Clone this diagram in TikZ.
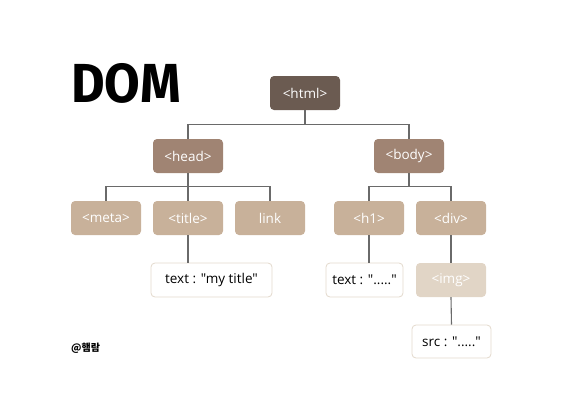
\documentclass[tikz,border=0pt]{standalone}
\usepackage{fontspec}
\newfontfamily\boxfont{Open Sans}
\newfontfamily\domfont{Fira Sans}
\newfontfamily\krfont{Noto Sans CJK KR}
\definecolor{cdark}{HTML}{6B5B51}
\definecolor{cmid}{HTML}{A08473}
\definecolor{clight}{HTML}{C8B19A}
\definecolor{cpale}{HTML}{E1D5C6}
\definecolor{cedge}{HTML}{E3D9CC}
\definecolor{cline}{HTML}{6A6A6A}
\begin{document}
\begin{tikzpicture}[x=1pt,y=-1pt,
  box/.style={rounded corners=4pt,minimum width=70pt,minimum height=34pt,inner sep=0pt,text=white,font=\boxfont\fontsize{13.5}{15}\selectfont},
  lvla/.style={box,fill=cdark},
  lvlb/.style={box,fill=cmid},
  lvlc/.style={box,fill=clight},
  lvld/.style={box,fill=cpale},
  leaf/.style={box,fill=white,draw=cedge,line width=0.8pt,text=black},
  conn/.style={draw=cline,line width=1.1pt}]
\useasboundingbox (0,0) rectangle (574,418);
\node[lvla] (html) at (305,93) {<html>};
\node[lvlb] (head) at (188,156) {<head>};
\node[lvlb] (body) at (409,156) {<body>};
\node[lvlc] (meta) at (106,218) {<meta>};
\node[lvlc] (title) at (188,218) {<title>};
\node[lvlc] (link) at (270,218) {link};
\node[lvlc] (h1) at (369,218) {<h1>};
\node[lvlc] (div) at (451,218) {<div>};
\node[leaf,minimum width=121pt] (ttext) at (211.5,280) {text : "my title"};
\node[leaf,minimum width=77pt] (htext) at (364.5,280) {text : "....."};
\node[lvld] (img) at (451,280) {<img>};
\node[leaf,minimum width=79pt,minimum height=33pt] (src) at (451.5,341.5) {src : "....."};
\node[anchor=west,inner sep=0pt,xscale=0.94] (dom) at (71,83) {\domfont\bfseries\fontsize{55}{55}\selectfont DOM};
\node[anchor=west,inner sep=0pt] (sig) at (71,348) {\krfont\bfseries\fontsize{10}{12}\selectfont @햄람};
\draw[conn] (html.south) -- ++(0,14) coordinate (hj);
\draw[conn] (head.north) |- (hj) -| (body.north);
\draw[conn] (head.south) -- ++(0,13) coordinate (hdj);
\draw[conn] (meta.north) |- (hdj) -| (link.north);
\draw[conn] (hdj) -- (title.north);
\draw[conn] (body.south) -- ++(0,13) coordinate (bj);
\draw[conn] (h1.north) |- (bj) -| (div.north);
\draw[conn] (title.south) -- (title.south |- ttext.north);
\draw[conn] (h1.south) -- (h1.south |- htext.north);
\draw[conn] (div.south) -- (img.north);
\draw[conn] (img.south) -- (src.north);
\end{tikzpicture}
\end{document}
